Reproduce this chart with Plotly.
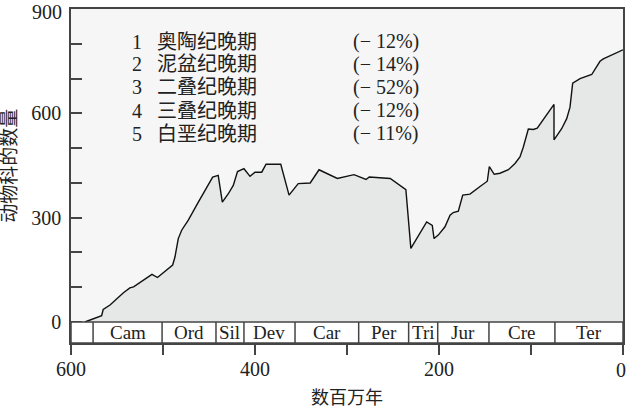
import plotly.graph_objects as go

# ---- data ----
times = [585, 566.7, 565, 557.6, 543, 536, 532, 512, 506, 489.5, 487, 483.4, 479.7, 472.5, 461.6,
         446, 440, 435.5, 429, 423.6, 419, 412, 405.4, 400, 392.7, 388, 372, 363, 353, 340, 330.4,
         310.5, 292.4, 279.3, 275.8, 253, 236, 230.6, 213.4, 207.3, 205.4, 200.8, 193.5, 188, 184.5,
         179, 174.2, 166.3, 155.4, 147.5, 145.3, 140, 133.7, 124.6, 117.4, 112, 108.4, 102.9, 97.5,
         93.2, 75, 75, 66.7, 61.2, 57.6, 55.8, 54.7, 46.7, 34, 25, 21.4, 0]
families = [0, 18, 36, 49, 84, 98, 101, 137, 128, 164, 187, 240, 264, 293, 345,
            417, 422, 345, 369, 393, 433, 441, 419, 431, 431, 454, 454, 365, 398, 400, 438,
            413, 424, 410, 417, 413, 381, 212, 288, 278, 240, 250, 274, 307, 315,
            319, 365, 368, 390, 405, 447, 425, 428, 438, 456, 475, 503, 555, 554,
            558, 626, 524, 556, 585, 618, 657, 687, 700, 712, 750, 757, 783]

period_bounds = [600, 576, 501, 442.4, 412, 356.5, 287.3, 233, 201.4, 145.7, 74, 0]
period_labels = ["", "Cam", "Ord", "Sil", "Dev", "Car", "Per", "Tri", "Jur", "Cre", "Ter"]

event_nums = ["1", "2", "3", "4", "5"]
event_names = ["奥陶纪晚期", "泥盆纪晚期", "二叠纪晚期", "三叠纪晚期", "白垩纪晚期"]
event_pcts = ["(\u2212 12%)", "(\u2212 14%)", "(\u2212 52%)", "(\u2212 12%)", "(\u2212 11%)"]

x_tickvals = [600, 500, 400, 300, 200, 100, 0]
x_ticktext = ["600", "", "400", "", "200", "", ""]
x_end_label = "0"
y_tickvals = [0, 100, 200, 300, 400, 500, 600, 700, 800, 900]
y_ticktext = ["0", "", "", "300", "", "", "600", "", "", ""]
y_top_label = "900"

# ---- figure ----
AX = "#444444"
FONT = "Liberation Serif, Noto Sans CJK SC, serif"
BAND_BOTTOM = -60.4

fig = go.Figure()
fig.add_trace(go.Scatter(
    x=times, y=families, mode="lines", fill="tozeroy",
    fillcolor="#e6e8e8", line=dict(color="#111111", width=1.4),
    hoverinfo="skip", showlegend=False))

shapes = [dict(type="rect", xref="x", yref="y", x0=600, x1=0, y0=BAND_BOTTOM, y1=0,
               fillcolor="white", line=dict(color=AX, width=1.5), layer="above")]
for b in period_bounds[1:-1]:
    shapes.append(dict(type="line", xref="x", yref="y", x0=b, x1=b, y0=BAND_BOTTOM, y1=0,
                       line=dict(color=AX, width=1.5)))

annotations = []
for i, lab in enumerate(period_labels):
    if not lab:
        continue
    mid = (period_bounds[i] + period_bounds[i + 1]) / 2
    annotations.append(dict(x=mid, y=BAND_BOTTOM / 2, xref="x", yref="y", text=lab,
                            showarrow=False, font=dict(family=FONT, size=19, color="#222")))

row_y = [807, 742, 675, 608.5, 541.5]
for n, name, pct, yy in zip(event_nums, event_names, event_pcts, row_y):
    annotations.append(dict(x=0.119, y=yy, xref="paper", yref="y", text=n, showarrow=False,
                            xanchor="center", font=dict(family=FONT, size=20, color="#222")))
    annotations.append(dict(x=0.152, y=yy, xref="paper", yref="y", text=name, showarrow=False,
                            xanchor="left", font=dict(family=FONT, size=20, color="#222")))
    annotations.append(dict(x=0.508, y=yy, xref="paper", yref="y", text=pct, showarrow=False,
                            xanchor="left", font=dict(family=FONT, size=20, color="#222")))

# end tick labels kept inside the page
annotations.append(dict(x=0, y=-0.081, xref="x", yref="paper", text=x_end_label,
                        showarrow=False, xanchor="right", xshift=5, yanchor="middle",
                        font=dict(family=FONT, size=20, color="#222")))
annotations.append(dict(x=0, y=900, xref="paper", yref="y", text=y_top_label,
                        showarrow=False, xanchor="right", xshift=-7, yanchor="middle",
                        yshift=-3, font=dict(family=FONT, size=20, color="#222")))

annotations.append(dict(x=-0.112, y=450, xref="paper", yref="y", text="动物科的数量",
                        textangle=-90, showarrow=False, xanchor="center",
                        font=dict(family=FONT, size=19, color="#222")))
annotations.append(dict(x=0.5, y=-0.165, xref="paper", yref="paper", text="数百万年",
                        showarrow=False, yanchor="middle",
                        font=dict(family=FONT, size=18, color="#222")))

fig.update_layout(
    width=628, height=415,
    margin=dict(l=71, r=5, t=9, b=72),
    paper_bgcolor="white", plot_bgcolor="#f6f6f6",
    font=dict(family=FONT, size=20, color="#222"),
    shapes=shapes, annotations=annotations,
    xaxis=dict(range=[600, 0], tickvals=x_tickvals, ticktext=x_ticktext,
               ticks="outside", ticklen=10, tickwidth=1.5, tickcolor=AX,
               showline=True, linecolor=AX, linewidth=1.5, mirror=True,
               showgrid=False, zeroline=False, automargin=False,
               ticklabelstandoff=-3,
               tickfont=dict(family=FONT, size=20, color="#222")),
    yaxis=dict(range=[BAND_BOTTOM, 900.5], tickvals=y_tickvals, ticktext=y_ticktext,
               ticks="inside", ticklen=11, tickwidth=1.5, tickcolor=AX,
               showline=True, linecolor=AX, linewidth=1.5, mirror=True,
               showgrid=False, zeroline=False, automargin=False,
               ticklabelstandoff=4,
               tickfont=dict(family=FONT, size=20, color="#222")),
)

fig.write_html("out.html", config={"displayModeBar": False},
               post_script="document.body.style.margin='0';")
